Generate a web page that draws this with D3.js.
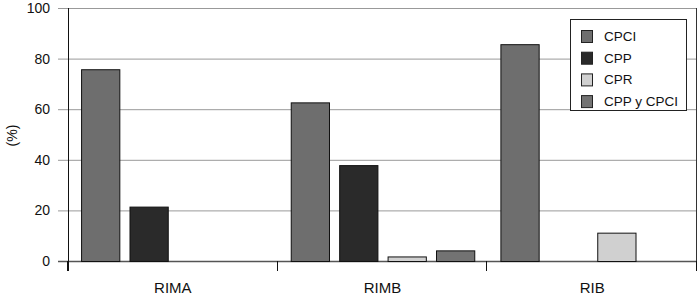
<!DOCTYPE html>
<html>
<head>
<meta charset="utf-8">
<script src="https://cdn.jsdelivr.net/npm/d3@7"></script>
<style>
  body { margin: 0; background: #fff; }
  text { font-family: "Liberation Sans", Arial, sans-serif; fill: #111; }
</style>
</head>
<body>
<svg></svg>
<script>
const width = 700;
const height = 296;

const categories = ['RIMA', 'RIMB', 'RIB'];
const seriesNames = ['CPCI', 'CPP', 'CPR', 'CPP y CPCI'];
const seriesColors = ['#6e6e6e', '#2a2a2a', '#d0d0d0', '#737373'];
const cpci = [75.8, 62.7, 85.7];
const cpp = [21.5, 37.9, 0];
const cpr = [0, 1.8, 11.2];
const cppCpci = [0, 4.2, 0];
const yTicks = [0, 20, 40, 60, 80, 100];

const margin = { left: 68, right: 3, top: 8, bottom: 35 };

window.onload = () => {
  const svg = d3.select('svg')
      .attr('width', width)
      .attr('height', height);

  const x = d3.scaleBand()
      .domain(categories)
      .range([margin.left, width - margin.right]);

  const xInner = d3.scaleBand()
      .domain(seriesNames)
      .range([0, x.bandwidth()])
      .paddingInner(0.21)
      .paddingOuter(0.27);

  const y = d3.scaleLinear()
      .domain([0, 100])
      .range([height - margin.bottom, margin.top]);

  // gridlines
  svg.append('g')
    .selectAll('line')
    .data(yTicks)
    .join('line')
      .attr('x1', margin.left - 10)
      .attr('x2', width - margin.right)
      .attr('y1', d => y(d) + 0.5)
      .attr('y2', d => y(d) + 0.5)
      .attr('stroke', d => d === 0 ? '#555' : '#999')
      .attr('stroke-width', d => d === 0 ? 1.5 : 1);

  // y tick labels
  svg.append('g')
    .selectAll('text')
    .data(yTicks)
    .join('text')
      .attr('x', 50)
      .attr('y', d => y(d) + 5)
      .attr('text-anchor', 'end')
      .attr('font-size', 14)
      .text(d => d);

  svg.append('text')
      .attr('transform', `translate(17,${(y(0) + y(100)) / 2 + 1}) rotate(-90)`)
      .attr('text-anchor', 'middle')
      .attr('font-size', 14)
      .text('(%)');

  // bars
  const seriesValues = [cpci, cpp, cpr, cppCpci];
  const barData = [];
  categories.forEach((c, i) => {
    seriesNames.forEach((s, j) => {
      const v = seriesValues[j][i];
      if (v > 0) barData.push({ cat: c, series: s, value: v, color: seriesColors[j] });
    });
  });

  svg.append('g')
    .selectAll('rect')
    .data(barData)
    .join('rect')
      .attr('x', d => x(d.cat) + xInner(d.series) + 0.5)
      .attr('y', d => y(d.value) + 0.5)
      .attr('width', xInner.bandwidth())
      .attr('height', d => y(0) - y(d.value))
      .attr('fill', d => d.color)
      .attr('stroke', '#111')
      .attr('stroke-width', 1);

  // axes lines
  svg.append('line')
      .attr('x1', margin.left + 0.5)
      .attr('x2', margin.left + 0.5)
      .attr('y1', y(100))
      .attr('y2', y(0) + 10)
      .attr('stroke', '#111');

  svg.append('line')
      .attr('x1', width - margin.right - 0.5)
      .attr('x2', width - margin.right - 0.5)
      .attr('y1', y(100))
      .attr('y2', y(0) + 10)
      .attr('stroke', '#333');

  const boundaries = categories.map(c => x(c)).concat([width - margin.right]);
  svg.append('g')
    .selectAll('line')
    .data(boundaries)
    .join('line')
      .attr('x1', d => Math.round(d) - 0.5)
      .attr('x2', d => Math.round(d) - 0.5)
      .attr('y1', y(0))
      .attr('y2', y(0) + 10)
      .attr('stroke', '#111');

  svg.append('g')
    .selectAll('text')
    .data(categories)
    .join('text')
      .attr('x', d => x(d) + x.bandwidth() / 2)
      .attr('y', 292.5)
      .attr('text-anchor', 'middle')
      .attr('font-size', 15)
      .text(d => d);

  // legend
  const legend = svg.append('g');
  legend.append('rect')
      .attr('x', 570.5)
      .attr('y', 19.5)
      .attr('width', 116)
      .attr('height', 91)
      .attr('fill', '#fff')
      .attr('stroke', '#222');

  const items = legend.selectAll('g')
    .data(seriesNames)
    .join('g')
      .attr('transform', (d, i) => `translate(581,${30 + i * 21.7})`);

  items.append('rect')
      .attr('x', 0.5)
      .attr('y', 0.5)
      .attr('width', 11)
      .attr('height', 12)
      .attr('fill', (d, i) => seriesColors[i])
      .attr('stroke', '#222');

  items.append('text')
      .attr('x', 23)
      .attr('y', 11)
      .attr('font-size', 13.5)
      .text(d => d);
};
</script>
</body>
</html>
